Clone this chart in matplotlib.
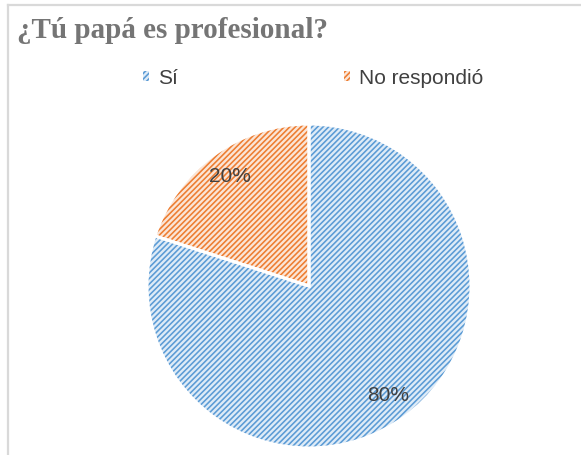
#-----------------------------------------------------------------------
#---- plot.py : camembert "¿Tú papá es profesional?"
#-----------------------------------------------------------------------

import numpy as np
import matplotlib
matplotlib.use("Agg")
import matplotlib.pyplot as plt
from matplotlib.patches import Patch
from matplotlib.lines import Line2D

#---- Donnees
categories = ["Sí", "No respondió"]
valeurs = [80, 20]
etiquettes = ["80%", "20%"]

couleursFond = ["#DEEBF7", "#FBE5D6"]
couleursTrait = ["#5B9BD5", "#ED7D31"]

W, H = 581, 455
plt.rcParams['hatch.linewidth'] = 1.15

fig = plt.figure(figsize=(W/100, H/100), dpi=100)

#---- Cadre (haut et gauche)
fig.add_artist(Line2D([8/W, 1], [1-4.5/H, 1-4.5/H], color="#D9D9D9", lw=1.6))
fig.add_artist(Line2D([8/W, 8/W], [0, 1-4.5/H], color="#D9D9D9", lw=1.6))

#---- Titre
fig.text(17/W, 1-30/H, "¿Tú papá es profesional?", family="Liberation Serif",
         fontweight="bold", fontsize=21, color="#757575", va="center", ha="left")

#---- Camembert
cx, cy, r = 309, 286, 162
ax = fig.add_axes([(cx-r)/W, (H-cy-r)/H, 2*r/W, 2*r/H])

wedges, _ = ax.pie(valeurs, startangle=90, counterclock=False, radius=1,
                   colors=couleursFond,
                   wedgeprops=dict(linewidth=0))
for w, c in zip(wedges, couleursTrait):
    w.set_hatch("//////")
    w.set_edgecolor(c)
    w.set_linewidth(0)

#--- Bords blancs entre les parts
ax.pie(valeurs, startangle=90, counterclock=False, radius=1,
       wedgeprops=dict(fill=False, edgecolor="white", linewidth=2.2))

#--- Etiquettes de pourcentage
angle = 90.0
for v, lab in zip(valeurs, etiquettes):
    theta = np.deg2rad(angle - v*360/100/2)
    angle -= v*360/100
    ax.text(0.835*np.cos(theta), 0.835*np.sin(theta), lab, ha="center", va="center",
            fontsize=15, color="#404040", family="Liberation Sans")

ax.set_xlim(-1, 1)
ax.set_ylim(-1, 1)
ax.set_aspect("equal")
ax.axis("off")

#---- Legende
handles = [Patch(facecolor=f, edgecolor=t, hatch="//////", linewidth=0)
           for f, t in zip(couleursFond, couleursTrait)]
fig.legend(handles, categories, loc="center", bbox_to_anchor=(313/W, 1-78/H),
           ncol=2, frameon=False, handlelength=0.3, handleheight=0.3,
           handletextpad=0.4, columnspacing=8.0,
           prop=dict(family="Liberation Sans", size=15), labelcolor="#404040")

fig.savefig("out.png", dpi=100)
